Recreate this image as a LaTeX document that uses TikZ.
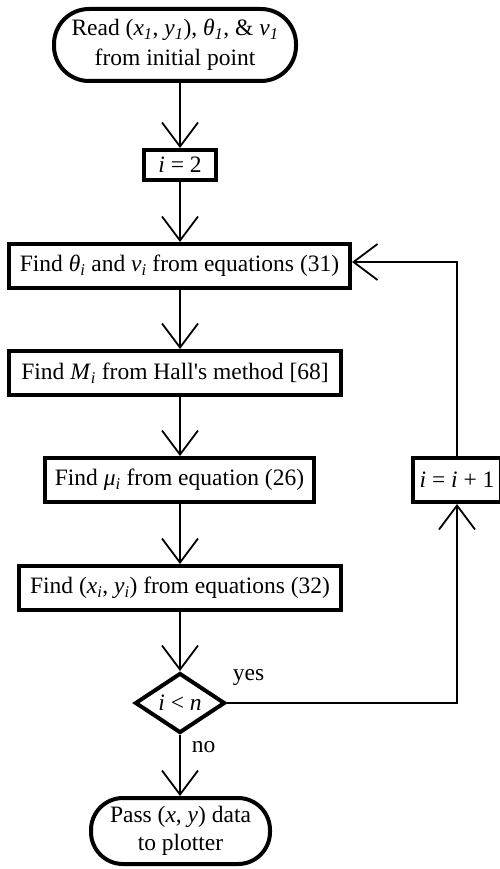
\documentclass[tikz,border=0pt]{standalone}
\usepackage{fontspec}
\setmainfont{Liberation Serif}
\usetikzlibrary{arrows.meta,shapes.geometric}
\begin{document}
\begin{tikzpicture}[x=1pt,y=-1pt,
  font=\fontsize{23.5}{28}\selectfont,
  box/.style={draw,line width=4pt,inner sep=0pt,minimum height=44pt,align=center},
  term/.style={draw,line width=4pt,inner sep=0pt,rounded corners=#1,align=center},
  dia/.style={draw,diamond,line width=4pt,inner sep=0pt,minimum width=90pt,minimum height=60pt,aspect=1.5},
  arr/.style={line width=1.8pt,-{Straight Barb[length=24pt,width=36pt,line width=1.8pt]}},
  lbl/.style={inner sep=0pt}]
\useasboundingbox (0,0) rectangle (500,869);
\coordinate (axis) at (180,0);
\node[term=35pt,minimum width=242pt,minimum height=72pt,font=\fontsize{23.5}{30}\selectfont] (start) at (175,45)
  {Read (\textit{x}\textsubscript{\textit{1}}, \textit{y}\textsubscript{\textit{1}}), \textit{θ}\textsubscript{\textit{1}}, \& \textit{v}\textsubscript{\textit{1}}\\from initial point};
\node[box,minimum width=72pt,minimum height=30pt] (i2) at (180,165) {\textit{i} = 2};
\node[box,minimum width=341pt] (f1) at (179.5,266)
  {Find \textit{θ}\textsubscript{\textit{i}} and \textit{v}\textsubscript{\textit{i}} from equations (31)};
\node[box,minimum width=332pt] (f2) at (175,373)
  {Find \textit{M}\textsubscript{\textit{i}} from Hall\textquotesingle s method [68]};
\node[box,minimum width=269pt] (f3) at (179.5,480)
  {Find \textit{μ}\textsubscript{\textit{i}} from equation (26)};
\node[box,minimum width=322pt] (f4) at (180,588)
  {Find (\textit{x}\textsubscript{\textit{i}}, \textit{y}\textsubscript{\textit{i}}) from equations (32)};
\node[dia] (dec) at (180,703) {\textit{i} < \textit{n}};
\node[box,minimum width=88pt] (inc) at (457,480) {\textit{i} = \textit{i} + 1};
\node[term=32pt,minimum width=179pt,minimum height=66pt,font=\fontsize{23.5}{27.5}\selectfont] (end) at (180.5,831)
  {Pass (\textit{x}, \textit{y}) data\\to plotter};
\node[lbl] (yes) at (248.5,677) {yes};
\node[lbl] (no) at (203.5,747) {no};
\coordinate (fin) at ([yshift=4pt]f1.east);
\draw[arr] (start.south -| axis) -- (i2.north -| axis);
\draw[arr] (i2.south -| axis) -- (f1.north -| axis);
\draw[arr] (f1.south -| axis) -- (f2.north -| axis);
\draw[arr] (f2.south -| axis) -- (f3.north -| axis);
\draw[arr] (f3.south -| axis) -- (f4.north -| axis);
\draw[arr] (f4.south -| axis) -- (dec.north);
\draw[arr] (dec.south) -- (end.north -| axis);
\draw[arr] (dec.east) -- (dec.east -| inc) -- (inc.south);
\draw[arr] (inc.north) -- (inc.north |- fin) -- (fin);
\end{tikzpicture}
\end{document}
